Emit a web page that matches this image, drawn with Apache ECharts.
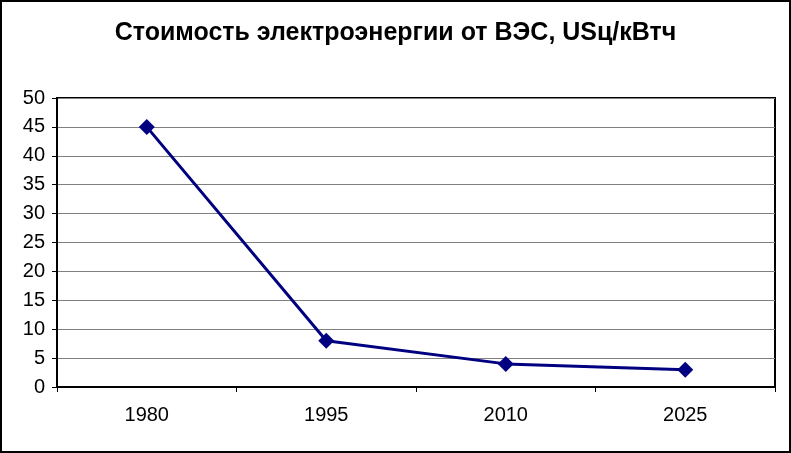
<!DOCTYPE html>
<html>
<head>
<meta charset="utf-8">
<script src="https://cdn.jsdelivr.net/npm/echarts@6/dist/echarts.min.js"></script>
<style>
html,body{margin:0;padding:0;background:#fff;}
#c{width:791px;height:453px;box-sizing:border-box;border:2px solid #000;}
</style>
</head>
<body>
<div id="c"></div>
<script>
const titleText = "Стоимость электроэнергии от ВЭС, USц/кВтч";
const categories = ["1980", "1995", "2010", "2025"];
const values = [45, 8, 4, 3];
const yMin = 0, yMax = 50, yInterval = 5;

const chart = echarts.init(document.getElementById('c'), null, {renderer: 'canvas'});
chart.setOption({
  backgroundColor: '#fff',
  animation: false,
  title: {
    text: titleText,
    left: 'center',
    top: 14,
    textStyle: {fontFamily: 'Liberation Sans', fontWeight: 'bold', fontSize: 25, color: '#000'}
  },
  grid: {
    left: 55, right: 14, top: 96, bottom: 64,
    show: true, borderColor: '#000', borderWidth: 2, backgroundColor: '#fff'
  },
  xAxis: {
    type: 'category',
    data: categories,
    boundaryGap: true,
    axisLine: {show: true, lineStyle: {color: '#000', width: 2}},
    axisTick: {show: true, length: 5, lineStyle: {color: '#000'}},
    axisLabel: {color: '#000', fontFamily: 'Liberation Sans', fontSize: 20, margin: 18},
    splitLine: {show: false}
  },
  yAxis: {
    type: 'value',
    min: yMin, max: yMax, interval: yInterval,
    axisLine: {show: true, lineStyle: {color: '#000', width: 2}},
    axisTick: {show: true, length: 5, lineStyle: {color: '#000'}},
    axisLabel: {color: '#000', fontFamily: 'Liberation Sans', fontSize: 20, margin: 12},
    splitLine: {show: true, lineStyle: {color: '#808080', width: 1}}
  },
  series: [{
    type: 'line',
    data: values,
    symbol: 'diamond',
    symbolSize: 16,
    lineStyle: {color: '#000080', width: 3},
    itemStyle: {color: '#000080'}
  }]
});
</script>
</body>
</html>
